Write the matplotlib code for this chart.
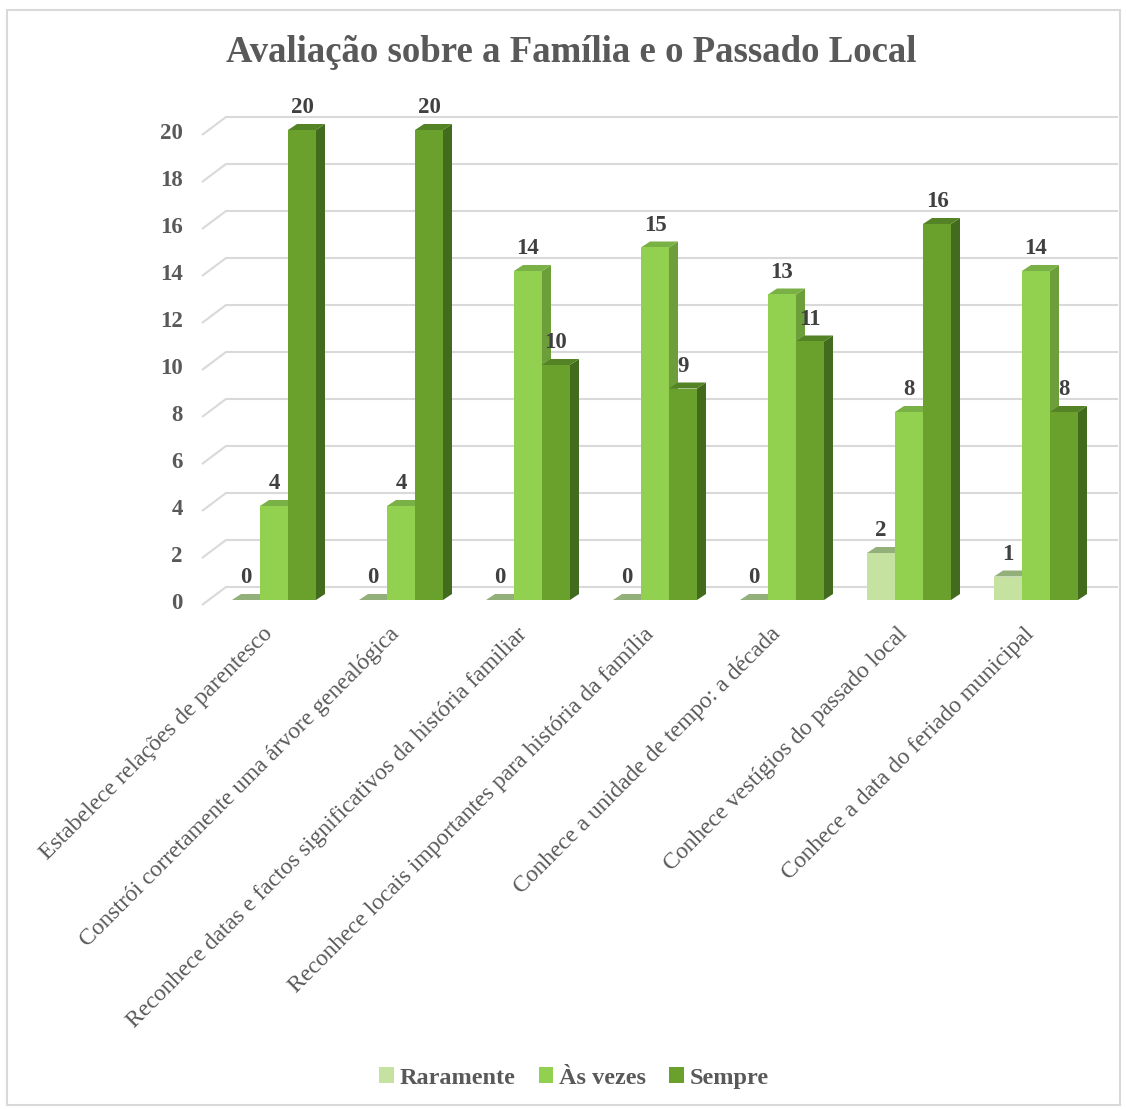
import matplotlib.pyplot as plt
from matplotlib.patches import Polygon, Rectangle, Patch

# dados do gráfico
categorias = [
    "Estabelece relações de parentesco",
    "Constrói corretamente uma árvore genealógica",
    "Reconhece datas e factos significativos da história familiar",
    "Reconhece locais importantes para história da família",
    "Conhece a unidade de tempo: a década",
    "Conhece vestígios do passado local",
    "Conhece a data do feriado municipal",
]
series = ["Raramente", "Às vezes", "Sempre"]
raramente = [0, 0, 0, 0, 0, 2, 1]
as_vezes = [4, 4, 14, 15, 13, 8, 14]
sempre = [20, 20, 10, 9, 11, 16, 8]
yticks = list(range(0, 21, 2))

# cores: frente, topo, lado
cores = {
    "Raramente": ("#C5E2A1", "#94B07A", "#8AA870"),
    "Às vezes": ("#92D050", "#7AB146", "#6C9E3A"),
    "Sempre": ("#6AA12D", "#538324", "#436B1D"),
}
cinza_txt = "#595959"
cinza_grid = "#D9D9D9"

plt.rcParams['font.family'] = ['Liberation Serif', 'DejaVu Serif']

W, H = 1126, 1109
fig = plt.figure(figsize=(W / 100, H / 100), dpi=100)
ax = fig.add_axes([0, 0, 1, 1])
ax.axis("off")

# escala: 127 px por categoria, 23.5 px por unidade
px_x, px_y = 127.0, 23.5
x0_px, y0_px = 274, 600
ax.set_xlim(-x0_px / px_x, (W - x0_px) / px_x)
ax.set_ylim((y0_px - H) / px_y, y0_px / px_y)

larg = 28 / px_x
dx, dy = 9 / px_x, 6 / px_y          # profundidade das barras
wx, wy = 24 / px_x, 13 / px_y        # profundidade da parede
frente_y = -5 / px_y
x_parede = -0.378
x_fim = 6.646

# grelha da parede traseira
for v in yticks:
    ax.plot([x_parede - wx, x_parede, x_fim], [v + frente_y, v + wy, v + wy],
            color=cinza_grid, lw=1.5, zorder=1, solid_capstyle="butt")
    ax.text(-91 / px_x, v - 0.15, str(v), ha="right", va="center",
            fontsize=16.5, fontweight="bold", color=cinza_txt)

valores = [raramente, as_vezes, sempre]
for i in range(len(categorias)):
    for j, nome in enumerate(series):
        v = valores[j][i]
        xa = i + (j - 1.5) * larg
        xb = xa + larg
        frente, topo, lado = cores[nome]
        z = 2 + i * 3 + j
        if v > 0:
            ax.add_patch(Polygon([(xb, 0), (xb + dx, dy), (xb + dx, v + dy), (xb, v)],
                                 closed=True, fc=lado, ec="none", zorder=z))
        ax.add_patch(Polygon([(xa, v), (xa + dx, v + dy), (xb + dx, v + dy), (xb, v)],
                             closed=True, fc=topo, ec="none", zorder=z))
        if v > 0:
            ax.bar(xa, v, width=larg, align="edge", color=frente, zorder=z)
        ax.text(xa + larg / 2, v + 0.72, str(v), ha="center", va="baseline",
                fontsize=16.5, fontweight="bold", color="#404040", zorder=50)

    ax.text(i - 12 / px_x, -1.0, categorias[i], rotation=45, rotation_mode="anchor",
            ha="right", va="top", fontsize=17, color=cinza_txt)

fig.text(571 / W, 1 - 53 / H, "Avaliação sobre a Família e o Passado Local",
         ha="center", va="center", fontsize=26.5, fontweight="bold", color=cinza_txt)

handles = [Patch(facecolor=cores[s][0], label=s) for s in series]
leg = fig.legend(handles=handles, loc="center", bbox_to_anchor=(574 / W, 1 - 1078 / H),
                 ncol=3, frameon=False, handlelength=0.6, handleheight=0.6,
                 handletextpad=0.25, columnspacing=0.95,
                 prop={"size": 17.5, "weight": "bold"})
for t in leg.get_texts():
    t.set_color(cinza_txt)

fig.add_artist(Rectangle((7 / W, 1 - 1105 / H), 1113 / W, 1095 / H,
                         transform=fig.transFigure, fill=False,
                         ec=cinza_grid, lw=1.5))

fig.savefig("out.png", dpi=100)
